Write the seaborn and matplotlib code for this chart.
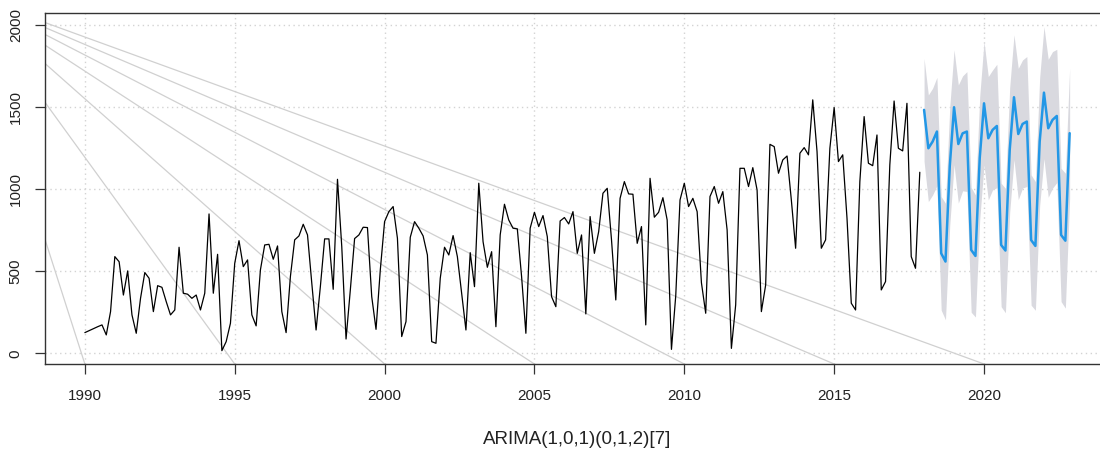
import numpy as np
import matplotlib
matplotlib.use("Agg")
import matplotlib.pyplot as plt
import seaborn as sns

# ---------------- data ----------------
start_year = 1990
frequency = 7

observed = [
    126, 138, 150, 162, 173, 112, 254,
    589, 558, 355, 502, 234, 122, 335,
    492, 457, 254, 412, 402, 315, 234,
    264, 646, 366, 360, 335, 355, 264,
    366, 849, 366, 603, 16, 71, 183,
    548, 686, 528, 569, 234, 167, 508,
    660, 664, 573, 654, 254, 126, 467,
    691, 715, 786, 721, 427, 142, 406,
    697, 697, 390, 1060, 650, 87, 386,
    699, 721, 768, 766, 345, 146, 508,
    802, 863, 894, 701, 102, 193, 707,
    802, 762, 715, 599, 71, 61, 457,
    646, 599, 717, 589, 366, 142, 613,
    406, 1036, 680, 524, 619, 162, 721,
    908, 812, 762, 758, 467, 122, 762,
    859, 772, 839, 711, 345, 284, 806,
    827, 788, 863, 609, 721, 240, 833,
    609, 741, 975, 1005, 691, 325, 944,
    1046, 971, 969, 670, 772, 173, 1066,
    829, 859, 948, 812, 24, 350, 934,
    1036, 894, 944, 863, 430, 244, 955,
    1016, 914, 985, 752, 30, 295, 1127,
    1127, 1016, 1131, 995, 254, 416, 1273,
    1259, 1097, 1178, 1202, 934, 640, 1219,
    1253, 1209, 1544, 1229, 640, 691, 1249,
    1497, 1168, 1209, 823, 305, 264, 1046,
    1442, 1158, 1143, 1330, 386, 437, 1148,
    1537, 1249, 1233, 1523, 589, 518, 1103,
]

forecast_mean = [
    1483, 1249, 1290, 1351, 609, 559, 1140,
    1499, 1275, 1340, 1351, 630, 593, 1190,
    1523, 1310, 1361, 1385, 660, 626, 1240,
    1560, 1336, 1397, 1412, 690, 654, 1290,
    1588, 1371, 1422, 1446, 721, 686, 1341,
]
forecast_upper = [
    1797, 1574, 1615, 1681, 955, 914, 1500,
    1849, 1635, 1690, 1716, 1010, 965, 1565,
    1899, 1686, 1726, 1761, 1036, 1005, 1620,
    1940, 1736, 1787, 1808, 1087, 1046, 1680,
    1990, 1791, 1838, 1852, 1127, 1097, 1737,
]
forecast_lower = [
    1169, 924, 965, 1021, 263, 204, 780,
    1149, 915, 990, 986, 250, 221, 815,
    1147, 934, 996, 1009, 284, 247, 860,
    1180, 936, 1007, 1016, 293, 262, 900,
    1186, 951, 1006, 1040, 315, 275, 945,
]

x_ticks = [1990, 1995, 2000, 2005, 2010, 2015, 2020]
y_ticks = [0, 500, 1000, 1500, 2000]
model_label = "ARIMA(1,0,1)(0,1,2)[7]"

# ---------------- style ----------------
sns.set_theme(style="white")
plt.rcParams['font.family'] = ['Liberation Sans', 'DejaVu Sans']

t_obs = start_year + np.arange(len(observed)) / frequency
t_fc = start_year + (len(observed) + np.arange(len(forecast_mean))) / frequency

fig = plt.figure(figsize=(11, 4.55), dpi=100)
# right edge of the plot frame lies just beyond the picture, as in the reference
ax = fig.add_axes([45 / 1100, 91 / 455, 1064 / 1100, 351.3 / 455])

xlim = (1988.67, 2024.17)
ylim = (-65.2, 2075)
ax.set_xlim(*xlim)
ax.set_ylim(*ylim)

# dotted grid
for xt in x_ticks:
    ax.axvline(xt, color='#D3D3D3', lw=1.0, linestyle=(0, (1, 2.5)), zorder=0)
for yt in y_ticks:
    ax.axhline(yt, color='#D3D3D3', lw=1.0, linestyle=(0, (1, 2.5)), zorder=0)

# light converging guide lines ending at the x tick positions
vanish_x, vanish_y = 1986.05, 2189
for xt in x_ticks:
    ax.plot([vanish_x, xt], [vanish_y, ylim[0]], color='#D0D0D0', lw=0.9, zorder=1)

# prediction interval band
ax.fill_between(t_fc, forecast_lower, forecast_upper, color='#D9D9DF', lw=0, zorder=2)

sns.lineplot(x=t_obs, y=observed, color='black', lw=0.9, ax=ax, zorder=3)
sns.lineplot(x=t_fc, y=forecast_mean, color='#2297E6', lw=1.8, ax=ax, zorder=4)

ax.set_xticks(x_ticks)
ax.set_xticklabels([str(v) for v in x_ticks])
ax.set_yticks(y_ticks)
ax.set_yticklabels([str(v) for v in y_ticks], rotation=90, va='center')
ax.tick_params(axis='x', bottom=True, direction='out', length=7, width=0.9,
               pad=11, labelsize=11, color='#333333', labelcolor='#222222')
ax.tick_params(axis='y', left=True, direction='out', length=7, width=0.9,
               pad=9, labelsize=11, color='#333333', labelcolor='#222222')
ax.set_xlabel('')
ax.set_ylabel('')

for side in ['left', 'bottom', 'top', 'right']:
    ax.spines[side].set_visible(True)
    ax.spines[side].set_color('#333333')
    ax.spines[side].set_linewidth(1.0)

fig.text(577 / 1100, 1 - 440 / 455, model_label, ha='center', va='center',
         fontsize=13.5, color='#222222')

fig.savefig('out.png', dpi=100)
